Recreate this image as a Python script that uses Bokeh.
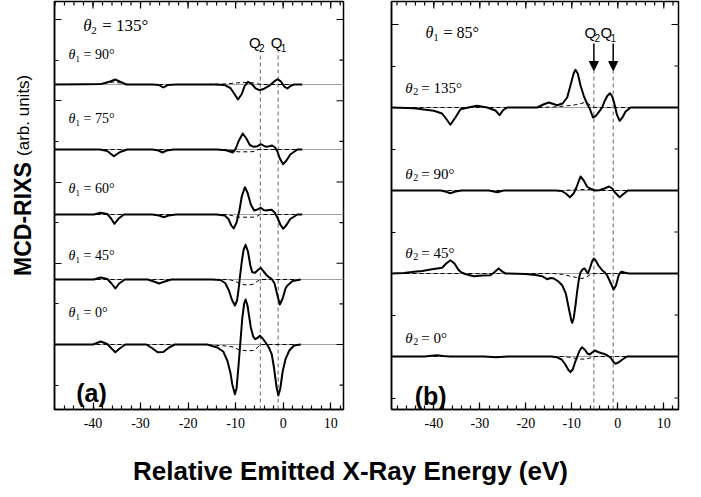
from math import pi

from bokeh.core.properties import value
from bokeh.embed import file_html
from bokeh.layouts import column, row
from bokeh.models import Arrow, FixedTicker, NormalHead, Range1d, Span
from bokeh.plotting import figure
from bokeh.resources import INLINE

# ---------------------------------------------------------------------------
# Panel (a): theta2 = 135 deg, spectra for several theta1 (energy in eV, intensity arb.)
# ---------------------------------------------------------------------------
A_LABELS = ["0°", "45°", "60°", "75°", "90°"]
A_OFFSETS = [0, 65, 130, 195, 260]
A_Q = [-4.8, -1.05]

A0_E = [-48.1, -40.0, -38.4, -37.0, -36.1, -35.3, -34.4, -33.2, -28.8, -27.6,
        -26.4, -25.2, -24.0, -22.8, -16.0, -13.85, -12.6, -11.75, -11.1, -10.7,
        -10.15, -9.8, -9.4, -9.0, -8.6, -8.2, -7.9, -7.5, -6.8, -6.3,
        -5.9, -5.4, -4.9, -4.3, -3.7, -3.0, -2.4, -1.9, -1.4, -1.0,
        -0.6, -0.1, 0.5, 1.3, 2.3, 3.7]
A0_I = [0, 0, 3.0, 0.5, -4.0, -7.7, -4.0, 0, 0, -3.5,
        -7.7, -7.5, -3.0, 0, 0, -3.0, -7.0, -16.0, -28.0, -39.7,
        -49.7, -44.0, -22.0, 2.0, 26.0, 41.0, 45.0, 39.0, 17.0, 8.0,
        5.3, 6.5, 8.7, 6.0, 2.0, -3.0, -9.7, -24.0, -42.0, -51.0,
        -44.0, -27.0, -14.7, -6.0, -1.0, 0]
A0D_E = [-48.1, -17.0, -14.0, -12.0, -10.5, -9.2, -7.5, -6.3, -5.5, -4.8, 3.7]
A0D_I = [0, 0, -1.0, -1.5, -2.5, -5.5, -6.3, -6.0, -3.5, 0, 0]

A45_E = [-48.1, -39.8, -38.4, -37.0, -36.1, -35.3, -34.5, -33.3, -28.5, -27.2,
         -26.1, -24.9, -23.5, -15.0, -13.2, -12.2, -11.4, -10.8, -10.15, -9.7,
         -9.4, -9.1, -8.7, -8.3, -7.9, -7.4, -6.9, -6.5, -5.9, -5.3,
         -4.7, -4.1, -3.5, -3.0, -2.4, -1.8, -1.3, -0.7, -0.1, 0.5,
         0.9, 2.0, 3.7]
A45_I = [0, 0, 2.0, 0.5, -4.0, -9.0, -4.0, 0, 0, -2.0,
         -4.0, -2.0, 0, 0, -0.5, -3.5, -11.0, -20.0, -26.0, -21.0,
         -11.0, 2.0, 18.0, 30.0, 34.7, 28.0, 14.0, 7.3, 6.8, 9.5,
         11.7, 8.0, 4.5, 2.3, 0.5, -4.0, -14.0, -25.0, -19.0, -9.0,
         -6.0, -1.5, 0]
A45D_E = [-48.1, -12.0, -11.0, -10.0, -9.0, -8.2, -7.0, -6.2, -5.5, -4.9, 3.7]
A45D_I = [0, 0, -0.5, -2.0, -4.0, -5.3, -5.3, -4.5, -2.0, 0, 0]

A60_E = [-48.1, -39.8, -38.4, -37.0, -36.2, -35.5, -34.6, -33.5, -27.5, -26.1,
         -25.1, -24.1, -22.5, -14.0, -12.3, -11.5, -10.9, -10.4, -9.8, -9.2,
         -8.7, -8.05, -7.5, -6.8, -6.1, -5.4, -4.7, -4.1, -3.6, -3.0,
         -2.4, -1.8, -1.2, -0.6, 0.0, 0.7, 1.5, 3.0, 4.0]
A60_I = [0, 0, 1.7, 0.5, -4.0, -9.3, -4.0, 0, 0, -1.0,
         -2.7, -1.0, 0, 0, -1.0, -4.5, -11.0, -14.0, -8.0, 4.0,
         18.0, 27.3, 22.0, 10.0, 4.0, 5.0, 6.7, 4.5, 4.0, 4.5,
         4.7, 2.0, -3.0, -10.0, -14.3, -10.5, -4.5, 0, 0]
A60D_E = [-48.1, -12.0, -10.6, -9.8, -6.5, -5.6, -4.9, 4.0]
A60D_I = [0, 0, -1.2, -2.7, -2.7, -2.2, 0, 0]

A75_E = [-48.1, -38.5, -37.0, -35.6, -34.3, -32.8, -27.5, -26.2, -25.4, -24.5,
         -23.0, -14.0, -12.0, -11.2, -10.6, -10.0, -9.4, -8.5, -7.8, -7.0,
         -6.2, -5.4, -4.7, -4.1, -3.6, -2.9, -2.3, -1.7, -1.2, -0.7,
         0.0, 0.7, 1.5, 3.0, 4.0]
A75_I = [0, 0, -1.5, -6.7, -2.5, 0, 0, -1.0, -3.0, -1.0,
         0, 0, -0.8, -2.0, -3.0, 0.5, 8.0, 16.0, 11.5, 4.5,
         2.7, 3.3, 5.3, 3.8, 2.7, 3.3, 4.0, 2.0, -2.0, -9.0,
         -14.7, -11.0, -5.0, 0, 0]
A75D_E = [-48.1, -12.0, -10.5, -9.5, -7.0, -6.0, -5.2, 4.0]
A75D_I = [0, 0, -1.2, -2.3, -2.3, -2.0, 0, 0]

A90_E = [-48.1, -41.5, -38.2, -36.4, -35.3, -34.2, -33.0, -27.5, -26.1, -25.2,
         -24.3, -22.5, -14.5, -12.3, -11.1, -10.3, -9.5, -8.7, -8.1, -7.4,
         -6.6, -5.8, -5.0, -4.0, -2.9, -2.0, -1.2, -0.5, 0.2, 0.9,
         1.6, 2.3, 4.0]
A90_I = [0, 0.3, 0.6, 3.0, 5.0, 2.6, 0, 0, -0.6, -3.0,
         -0.6, 0, 0, -0.6, -3.5, -9.0, -15.0, -9.5, -1.5, 2.7,
         0.5, -3.8, -5.7, -4.2, -1.2, 2.6, 5.3, 3.2, -1.8, -4.0,
         -1.2, 0, 0]
A90D_E = [-48.1, -39.5, -37.5, -35.8, -34.2, -32.5, -16.0, -12.0, -10.0, -8.2,
          -6.6, -5.4, -4.0, 4.0]
A90D_I = [0, 0, 1.0, 2.5, 1.5, 0, 0, 0.6, 1.5, 2.0,
          1.8, 0.6, 0, 0]

# ---------------------------------------------------------------------------
# Panel (b): theta1 = 85 deg, spectra for several theta2
# ---------------------------------------------------------------------------
B_LABELS = ["0°", "45°", "90°", "135°"]
B_OFFSETS = [0, 83, 166, 249]
B_Q = [-5.2, -1.0]

B0_E = [-49.2, -42.0, -40.5, -39.3, -38.0, -36.5, -29.0, -26.5, -24.0, -14.5,
        -13.2, -12.2, -11.4, -10.8, -10.3, -9.8, -9.3, -8.8, -8.3, -7.8,
        -7.2, -6.6, -6.1, -5.6, -5.0, -4.3, -3.5, -3.0, -2.4, -1.6,
        -1.0, -0.5, 0.3, 1.0, 2.0, 13.2]
B0_I = [0, 0, 0.8, 1.3, 0.5, 0, 0, -0.8, 0, 0,
        -0.8, -3.0, -8.0, -13.0, -15.7, -13.0, -6.0, 0, 6.0, 9.3,
        7.0, 3.0, 2.0, 4.0, 6.0, 4.5, 3.2, 2.7, 1.5, -1.0,
        -5.0, -7.3, -5.5, -3.0, 0, 0]
B0D_E = [-49.2, -12.0, -10.0, -8.5, -7.0, -6.0, -5.0, 13.2]
B0D_I = [0, 0, -1.0, -2.5, -2.7, -1.5, 0, 0]

B45_E = [-49.2, -46.5, -44.3, -42.5, -40.7, -38.2, -37.3, -36.4, -35.5, -34.7,
         -34.2, -33.2, -31.3, -29.5, -27.7, -26.9, -25.9, -25.0, -24.4, -20.0,
         -17.5, -16.3, -15.4, -14.6, -13.9, -12.9, -12.1, -11.3, -10.6, -10.1,
         -9.9, -9.6, -9.2, -8.8, -8.4, -8.1, -7.7, -7.2, -6.8, -6.5,
         -6.0, -5.6, -5.2, -4.8, -4.2, -3.4, -2.8, -2.3, -1.6, -0.9,
         -0.4, 0.2, 0.6, 0.9, 1.4, 2.4, 13.2]
B45_I = [0, 0.5, 1.7, 2.5, 4.0, 5.7, 10.0, 13.3, 10.0, 4.0,
         1.7, -0.5, -2.7, -2.0, -1.7, 1.0, 5.0, 1.5, 0, -0.5,
         -1.7, -3.0, -5.7, -4.5, -5.0, -8.0, -11.7, -20.0, -36.0, -47.0,
         -49.3, -45.0, -32.0, -16.7, -4.0, 1.0, 4.0, 5.0, 2.0, 0,
         6.0, 12.0, 15.0, 13.0, 8.0, 3.3, 1.0, -2.0, -9.0, -16.0,
         -12.0, -1.7, 1.2, 1.7, 1.0, 0, 0]
B45D_E = [-49.2, -14.0, -12.0, -10.5, -9.0, -8.1, -7.2, -6.3, -5.5, 13.2]
B45D_I = [0, 0, -1.0, -2.5, -4.0, -5.0, -4.5, -2.0, 0, 0]

B90_E = [-49.2, -38.5, -37.5, -36.4, -35.3, -34.0, -28.0, -26.2, -24.8, -13.5,
         -12.2, -11.3, -10.4, -9.6, -9.0, -8.1, -7.4, -6.7, -5.9, -5.0,
         -4.0, -2.9, -1.9, -1.2, -0.6, 0.4, 1.1, 2.2, 13.2]
B90_I = [0, 0, -1.0, -2.7, -1.0, 0, 0, -1.7, 0, 0,
         -0.5, -3.0, -6.7, -3.0, 3.0, 14.0, 10.0, 4.0, 1.7, 0,
         0.3, 2.0, 4.0, 2.0, -2.0, -6.7, -4.0, 0, 0]
B90D_E = [-49.2, -12.0, -10.0, -8.0, -6.0, -4.5, -3.0, 13.2]
B90D_I = [0, 0, 0.5, 1.0, 1.0, 0.3, 0, 0]

B135_E = [-49.2, -44.3, -40.0, -38.2, -37.2, -36.4, -35.3, -34.2, -32.0, -30.6,
          -28.4, -26.6, -25.7, -24.9, -24.0, -17.5, -16.2, -15.0, -14.0, -13.2,
          -12.0, -11.0, -10.3, -9.6, -9.2, -8.7, -8.1, -7.4, -6.7, -6.1,
          -5.4, -4.8, -4.1, -3.4, -2.9, -2.3, -1.7, -1.2, -0.7, -0.2,
          0.4, 1.0, 1.7, 2.8, 13.2]
B135_I = [0, -0.7, -3.3, -6.0, -12.0, -17.3, -10.0, -1.7, 0.5, 1.7,
          0, -3.0, -7.7, -2.5, 0, 0, 3.0, 5.0, 3.5, 2.3,
          4.0, 10.0, 22.0, 34.0, 37.7, 34.0, 22.0, 11.7, 4.0, -1.0,
          -10.0, -8.5, -4.3, 0, 6.0, 11.5, 14.3, 11.0, 3.0, -7.0,
          -13.3, -10.0, -4.0, 0, 0]
B135D_E = [-49.2, -17.0, -14.0, -11.5, -9.5, -8.0, -7.2, -6.5, -5.7, -5.0, 13.2]
B135D_I = [0, 0, 0.5, 1.5, 2.5, 4.0, 5.0, 4.0, 1.5, 0, 0]

X_TICKS = [-40, -30, -20, -10, 0, 10]
X_MINOR = list(range(-48, 14, 2))

SERIF = "Liberation Serif"
SANS = "Liberation Sans"
MAJOR_LEN = 7
MINOR_LEN = 4


def style_axis(ax, ticks, minor, labels):
    ax.ticker = FixedTicker(ticks=ticks, minor_ticks=minor)
    ax.axis_line_color = "black"
    ax.axis_line_width = 1.5
    ax.major_tick_line_color = "black"
    ax.major_tick_line_width = 1.2
    ax.minor_tick_line_color = "black"
    ax.minor_tick_line_width = 1.2
    ax.major_tick_in = MAJOR_LEN
    ax.major_tick_out = 0
    ax.minor_tick_in = MINOR_LEN
    ax.minor_tick_out = 0
    if labels:
        ax.major_label_text_font = SERIF
        ax.major_label_text_font_size = "14px"
        ax.major_label_text_color = "black"
        ax.major_label_standoff = 8
        ax.major_label_overrides = {t: str(t) for t in ticks}
    else:
        ax.major_label_overrides = {t: "" for t in ticks}
        ax.major_label_text_font_size = "0px"
        ax.major_label_standoff = 0


def make_panel(x_range, y_range, frame_w, frame_h, left, right, top, y_ticks, y_minor):
    p = figure(frame_width=frame_w, frame_height=frame_h,
               x_range=Range1d(*x_range), y_range=Range1d(*y_range),
               output_backend="svg", toolbar_location=None, title_location=None,
               min_border_left=left, min_border_right=right,
               min_border_top=top, min_border_bottom=40)
    p.grid.visible = False
    p.outline_line_color = "black"
    p.outline_line_width = 1.5
    p.background_fill_color = "white"
    p.border_fill_color = "white"
    style_axis(p.xaxis[0], X_TICKS, X_MINOR, True)
    style_axis(p.yaxis[0], y_ticks, y_minor, False)

    # mirrored inward ticks along the top and right edges of the frame
    # (y data units are one pixel each; x length converted with the frame scale)
    x_scale = frame_w / (x_range[1] - x_range[0])
    y_top, x_right = y_range[1], x_range[1]
    for xs, ln in ((X_TICKS, MAJOR_LEN), (X_MINOR, MINOR_LEN)):
        p.segment(x0=xs, y0=[y_top] * len(xs), x1=xs, y1=[y_top - ln] * len(xs),
                  line_color="black", line_width=1.2)
    for ys, ln in ((y_ticks, MAJOR_LEN), (y_minor, MINOR_LEN)):
        p.segment(x0=[x_right] * len(ys), y0=ys, x1=[x_right - ln / x_scale] * len(ys),
                  y1=ys, line_color="black", line_width=1.2)
    return p


def draw_spectra(p, offsets, solids, dashes):
    for off in offsets:
        p.add_layout(Span(location=off, dimension="width", line_color="#a0a0a0",
                          line_width=1, level="underlay"))
    for (e, i), off in zip(dashes, offsets):
        p.line(e, [v + off for v in i], line_color="black", line_width=1,
               line_dash="4 3")
    for (e, i), off in zip(solids, offsets):
        p.line(e, [v + off for v in i], line_color="black", line_width=2,
               line_join="round")


def txt(p, x, y, s, size, font=SANS, style="normal", align="left", dx=0):
    p.text(x=[x], y=[y], text=[s], text_font=value(font), text_font_style=style,
           text_font_size=f"{size}px", text_baseline="middle", text_align=align,
           text_color="black", x_offset=dx)


def theta_label(p, x, y, sub, angle_text, size):
    # italic theta, lowered small index, then the upright "= angle"
    txt(p, x, y, "θ", size, font=SERIF, style="italic")
    txt(p, x, y - round(size * 0.3), sub, round(size * 0.64), font=SERIF,
        dx=round(size * 0.5))
    txt(p, x, y, f"= {angle_text}", size, font=SERIF, dx=round(size * 1.1))


def q_label(p, x, y, sub, size=15):
    txt(p, x, y, "Q", size)
    txt(p, x, y - 5, sub, round(size * 0.68), dx=round(size * 0.7))


# ---- panel (a) ----
pa = make_panel((-48.1, 12.7), (-65, 343), 289, 408, 10, 24, 1,
                [0, 81.25, 162.5, 243.75, 325],
                [-40.625, 40.625, 121.875, 203.125, 284.375])
pa.segment(x0=A_Q, y0=[-65, -65], x1=A_Q, y1=[294, 294], line_color="#666666",
           line_width=1, line_dash="4 3")
draw_spectra(pa, A_OFFSETS,
             [(A0_E, A0_I), (A45_E, A45_I), (A60_E, A60_I), (A75_E, A75_I), (A90_E, A90_I)],
             [(A0D_E, A0D_I), (A45D_E, A45D_I), (A60D_E, A60D_I), (A75D_E, A75D_I), (A90D_E, A90D_I)])
theta_label(pa, -42.05, 319, "2", "135°", 17)
for lab, y in zip(A_LABELS, [32, 89, 156, 226, 290]):
    theta_label(pa, -45.15, y, "1", lab, 14)
q_label(pa, -7.2, 302, "2")
q_label(pa, -2.63, 302, "1")
txt(pa, -40.3, -48, "(a)", 25, style="bold", align="center")

# ---- panel (b) ----
# frames in a row share their top edge, so panel (b) uses the same frame height
pb = make_panel((-49.2, 13.2), (-53, 355), 287, 408, 24, 23, 1,
                [0, 83, 166, 249, 332],
                [-41.5, 41.5, 124.5, 207.5, 290.5])
pb.segment(x0=B_Q, y0=[-53, -53], x1=B_Q, y1=[286, 286], line_color="#666666",
           line_width=1, line_dash="4 3")
for q in B_Q:
    pb.add_layout(Arrow(end=NormalHead(size=9, fill_color="black", line_color="black"),
                        x_start=q, y_start=313, x_end=q, y_end=286,
                        line_color="black", line_width=1.5))
draw_spectra(pb, B_OFFSETS,
             [(B0_E, B0_I), (B45_E, B45_I), (B90_E, B90_I), (B135_E, B135_I)],
             [(B0D_E, B0D_I), (B45D_E, B45D_I), (B90D_E, B90D_I), (B135D_E, B135D_I)])
theta_label(pb, -41.8, 324, "1", "85°", 16)
for lab, y in zip(B_LABELS, [19, 104, 183, 269]):
    theta_label(pb, -46.2, y, "2", lab, 15)
q_label(pb, -7.24, 324, "2")
q_label(pb, -3.75, 324, "1")
txt(pb, -40.7, -39, "(b)", 25, style="bold", align="center")


def blank(width, height):
    f = figure(width=width, height=height, x_range=Range1d(0, width),
               y_range=Range1d(0, height), output_backend="svg",
               toolbar_location=None, title_location=None, min_border=0)
    f.axis.visible = False
    f.grid.visible = False
    f.outline_line_color = None
    return f


# ---- axis titles ----
py = blank(44, 449)
py.text(x=[22], y=[147], text=["MCD-RIXS"], angle=pi / 2, text_font=value(SANS),
        text_font_style="bold", text_font_size="23px", text_baseline="middle",
        text_align="left", text_color="black")
py.text(x=[23], y=[279], text=["(arb. units)"], angle=pi / 2, text_font=value(SANS),
        text_font_size="17px", text_baseline="middle", text_align="left",
        text_color="black")

px = blank(701, 48)
px.text(x=[350], y=[27], text=["Relative Emitted X-Ray Energy (eV)"],
        text_font=value(SANS), text_font_style="bold", text_font_size="26px",
        text_baseline="middle", text_align="center", text_color="black")

layout = column(row(py, pa, pb), px)
open("out.html", "w").write(file_html(layout, INLINE))
